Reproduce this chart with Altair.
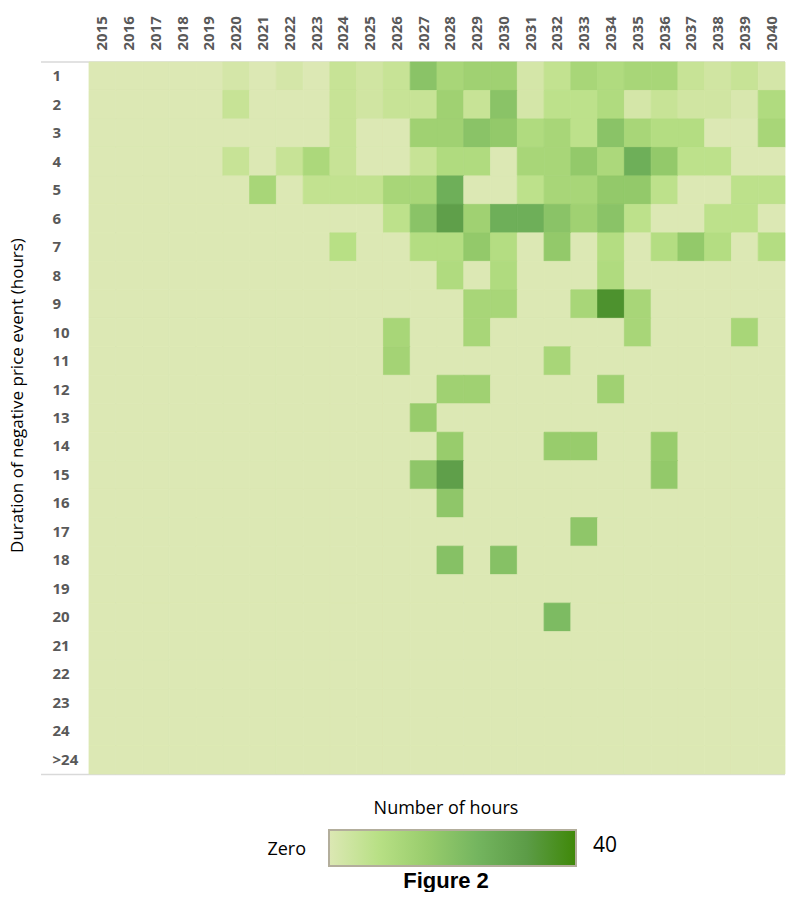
import altair as alt
import pandas as pd

years = [str(y) for y in range(2015, 2041)]
durations = [str(d) for d in range(1, 25)] + [">24"]

# Number of hours per duration row; columns are 2015..2040
z5 = [0, 0, 0, 0, 0]
row_1 = z5 + [2, 0, 2, 0, 5, 3, 5, 19, 12, 14, 14, 2, 6, 12, 10, 12, 12, 5, 3, 5, 2]
row_2 = z5 + [5, 0, 0, 0, 5, 3, 5, 5, 14, 5, 19, 2, 7, 7, 10, 2, 5, 3, 3, 1, 10]
row_3 = z5 + [0, 0, 0, 0, 5, 0, 0, 14, 14, 19, 17, 10, 12, 7, 19, 12, 9, 9, 0, 0, 12]
row_4 = z5 + [5, 0, 5, 11, 5, 0, 0, 5, 10, 10, 0, 12, 12, 17, 11, 26, 17, 7, 7, 0, 0]
row_5 = z5 + [0, 12, 0, 6, 6, 6, 12, 12, 26, 0, 0, 7, 12, 12, 17, 17, 7, 0, 0, 7, 7]
row_6 = z5 + [0, 0, 0, 0, 0, 0, 7, 19, 31, 14, 26, 26, 19, 14, 19, 7, 0, 0, 7, 7, 0]
row_7 = z5 + [0, 0, 0, 0, 8, 0, 0, 9, 9, 17, 9, 0, 17, 0, 9, 0, 9, 17, 9, 0, 9]
row_8 = z5 + [0, 0, 0, 0, 0, 0, 0, 0, 10, 0, 10, 0, 0, 0, 10, 0, 0, 0, 0, 0, 0]
row_9 = z5 + [0, 0, 0, 0, 0, 0, 0, 0, 0, 12, 12, 0, 0, 12, 36, 12, 0, 0, 0, 0, 0]
row_10 = z5 + [0, 0, 0, 0, 0, 0, 12, 0, 0, 12, 0, 0, 0, 0, 0, 12, 0, 0, 0, 12, 0]
row_11 = z5 + [0, 0, 0, 0, 0, 0, 13, 0, 0, 0, 0, 0, 12, 0, 0, 0, 0, 0, 0, 0, 0]
row_12 = z5 + [0, 0, 0, 0, 0, 0, 0, 0, 14, 14, 0, 0, 0, 0, 14, 0, 0, 0, 0, 0, 0]
row_13 = z5 + [0, 0, 0, 0, 0, 0, 0, 16, 0, 0, 0, 0, 0, 0, 0, 0, 0, 0, 0, 0, 0]
row_14 = z5 + [0, 0, 0, 0, 0, 0, 0, 0, 16, 0, 0, 0, 16, 16, 0, 0, 16, 0, 0, 0, 0]
row_15 = z5 + [0, 0, 0, 0, 0, 0, 0, 18, 31, 0, 0, 0, 0, 0, 0, 0, 17, 0, 0, 0, 0]
row_16 = z5 + [0, 0, 0, 0, 0, 0, 0, 0, 18, 0, 0, 0, 0, 0, 0, 0, 0, 0, 0, 0, 0]
row_17 = z5 + [0, 0, 0, 0, 0, 0, 0, 0, 0, 0, 0, 0, 0, 18, 0, 0, 0, 0, 0, 0, 0]
row_18 = z5 + [0, 0, 0, 0, 0, 0, 0, 0, 20, 0, 20, 0, 0, 0, 0, 0, 0, 0, 0, 0, 0]
row_19 = z5 + [0] * 21
row_20 = z5 + [0, 0, 0, 0, 0, 0, 0, 0, 0, 0, 0, 0, 22, 0, 0, 0, 0, 0, 0, 0, 0]
row_21 = z5 + [0] * 21
row_22 = z5 + [0] * 21
row_23 = z5 + [0] * 21
row_24 = z5 + [0] * 21
row_gt24 = z5 + [0] * 21

rows = [row_1, row_2, row_3, row_4, row_5, row_6, row_7, row_8, row_9, row_10,
        row_11, row_12, row_13, row_14, row_15, row_16, row_17, row_18, row_19,
        row_20, row_21, row_22, row_23, row_24, row_gt24]

records = []
for d, vals in zip(durations, rows):
    for y, v in zip(years, vals):
        records.append({"year": y, "duration": d, "hours": v})
df = pd.DataFrame(records)

color_domain = [0, 8, 16, 24, 32, 40]
color_range = ["#dce8b4", "#b8e085", "#98cc6c", "#74b55f", "#5c9c47", "#3f8808"]

W, H = 696, 712
one = pd.DataFrame({"k": [0]})

rules = alt.Chart(one).mark_rule(color="#d9d9d9", strokeWidth=1.5).encode(
    x=alt.value(-48), x2=alt.value(W), y=alt.value(0)
)
rules_b = alt.Chart(one).mark_rule(color="#d9d9d9", strokeWidth=1.5).encode(
    x=alt.value(-48), x2=alt.value(W), y=alt.value(H + 0.5)
)

heat = alt.Chart(df).mark_rect(strokeWidth=0.8).encode(
    x=alt.X("year:O", sort=years,
            scale=alt.Scale(paddingInner=0, paddingOuter=0),
            axis=alt.Axis(orient="top", title=None, labelAngle=270, ticks=False,
                          domain=False, labelFont="Open Sans", labelFontWeight="bold",
                          labelFontSize=15, labelColor="#595959", labelPadding=12)),
    y=alt.Y("duration:O", sort=durations,
            scale=alt.Scale(paddingInner=0, paddingOuter=0),
            axis=alt.Axis(title="Duration of negative price event (hours)",
                          labelAlign="left", labelPadding=37, ticks=False, domain=False,
                          labelFont="Open Sans", labelFontWeight="bold", labelFontSize=15,
                          labelColor="#595959", titleFont="Open Sans", titleFontSize=17,
                          titleFontWeight="normal", titleColor="#000000",
                          titleAngle=270, titleX=-63, titleY=333)),
    color=alt.Color("hours:Q", scale=alt.Scale(domain=color_domain, range=color_range),
                    legend=None),
    stroke=alt.Stroke("hours:Q", scale=alt.Scale(domain=color_domain, range=color_range),
                      legend=None),
)

grad = alt.LinearGradient(
    gradient="linear",
    stops=[alt.GradientStop(color=c, offset=i / (len(color_range) - 1))
           for i, c in enumerate(color_range)],
    x1=0, x2=1, y1=0, y2=0,
)
legend_bar = alt.Chart(one).mark_rect(color=grad, stroke="#b3ae9c", strokeWidth=2).encode(
    x=alt.value(240), x2=alt.value(487), y=alt.value(H + 56), y2=alt.value(H + 92)
)
legend_title = alt.Chart(one).mark_text(
    font="Open Sans", fontSize=18, color="#000000", align="center", baseline="middle"
).encode(x=alt.value(357), y=alt.value(H + 35), text=alt.value("Number of hours"))
legend_zero = alt.Chart(one).mark_text(
    font="Open Sans", fontSize=18, color="#000000", align="right", baseline="middle"
).encode(x=alt.value(217), y=alt.value(H + 76), text=alt.value("Zero"))
legend_max = alt.Chart(one).mark_text(
    font="Open Sans", fontSize=21, color="#000000", align="left", baseline="middle"
).encode(x=alt.value(504), y=alt.value(H + 72), text=alt.value("40"))
fig_title = alt.Chart(one).mark_text(
    font="Liberation Sans", fontSize=22, fontWeight="bold", color="#000000",
    align="center", baseline="middle"
).encode(x=alt.value(357), y=alt.value(H + 107), text=alt.value("Figure 2"))

chart = alt.layer(
    rules, rules_b, heat, legend_bar, legend_title, legend_zero, legend_max, fig_title
).properties(
    width=W, height=H, padding={"left": 0, "top": 7, "right": 0, "bottom": 0}
).configure_view(stroke=None)

chart.save("out.html", embed_options={"renderer": "svg", "actions": False})
